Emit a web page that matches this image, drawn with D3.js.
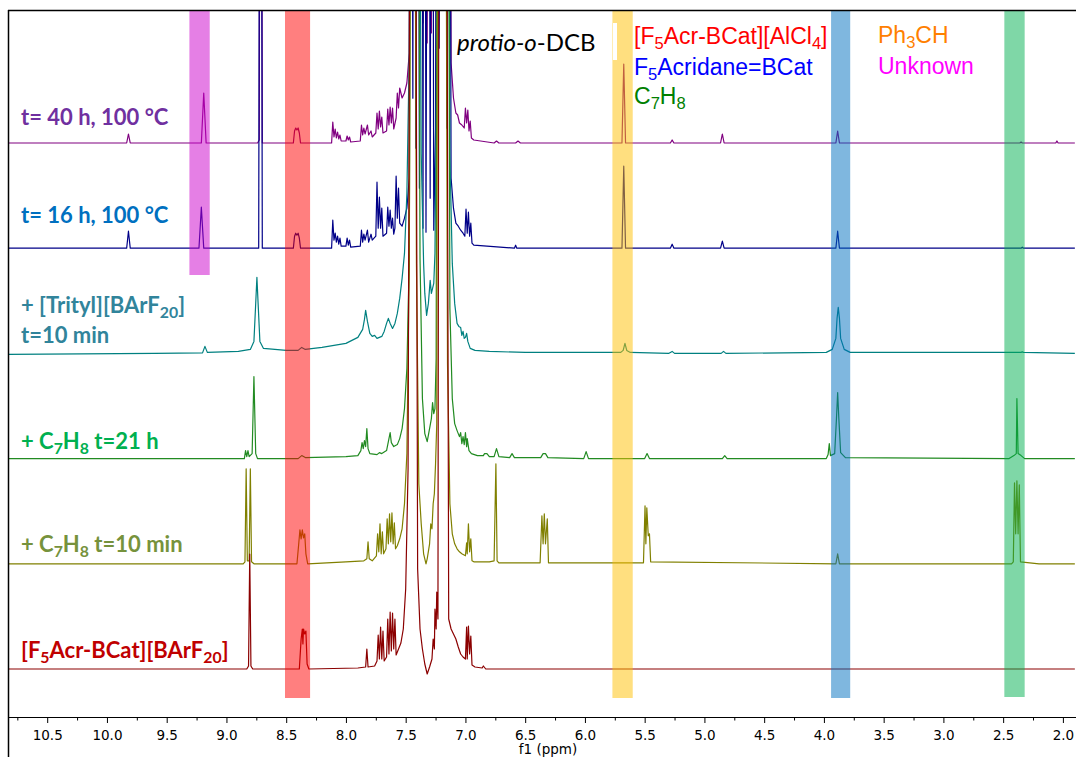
<!DOCTYPE html>
<html>
<head>
<meta charset="utf-8">
<script src="https://cdn.jsdelivr.net/npm/d3@7"></script>
<style>
body { margin: 0; background: #fff; }
</style>
</head>
<body>
<svg id="chart" width="1076" height="757"></svg>
<script>
// ---- data ----
// spectrum labels, top to bottom ("_{..}" = subscript, "|" = new line)
var names = ["t= 40 h, 100 °C", "t= 16 h, 100 °C", "+ [Trityl][BArF_{20}]|t=10 min",
  "+ C_{7}H_{8} t=21 h", "+ C_{7}H_{8} t=10 min", "[F_{5}Acr-BCat][BArF_{20}]"];

// [ppm, intensity] points of each trace
var s40h = [[10.85,0],[9.835,0],[9.82,9],[9.805,0],[9.21,0],[9.19,50],[9.17,0],
  [8.74,0],[8.725,3],[8.715,1000],[8.70,0],
  [8.44,0],[8.43,12],[8.42,15],[8.41,13],[8.40,15],[8.39,10],[8.38,0],
  [8.12,0],[8.11,21],[8.10,6],[8.09,14],[8.08,5],[8.07,11],[8.06,4],[8.05,8],[8.04,2],
  [8.00,2],[7.99,7],[7.98,3],[7.97,6],[7.96,1],
  [7.88,2],[7.87,18],[7.86,8],[7.85,15],[7.84,9],[7.82,18],[7.81,8],[7.79,12],[7.78,6],
  [7.75,10],[7.74,30],[7.73,14],[7.72,32],[7.71,16],[7.70,26],[7.69,10],
  [7.66,12],[7.65,34],[7.64,18],[7.63,36],[7.62,20],[7.61,35],[7.60,14],
  [7.58,25],[7.57,50],[7.56,35],[7.55,55],[7.53,45],[7.51,50],[7.49,60],[7.47,90],
  [7.455,1000],[7.44,200],[7.43,1000],[7.42,300],[7.40,1000],[7.385,150],[7.37,1000],
  [7.355,120],[7.34,1000],[7.32,100],[7.30,1000],[7.285,110],[7.27,1000],[7.25,160],
  [7.23,1000],[7.21,250],[7.19,1000],[7.17,1000],[7.155,150],[7.14,1000],[7.12,80],
  [7.10,45],[7.08,30],[7.065,28],[7.05,20],[7.03,18],[7.01,15],[7.00,35],[6.99,20],
  [6.98,33],[6.97,12],[6.96,22],[6.95,5],[6.93,3],
  [6.76,0],[6.74,2],[6.72,0],[6.58,0],[6.56,2],[6.54,0],
  [5.69,0],[5.675,79],[5.66,0],[5.285,0],[5.27,3],[5.255,0],[4.865,0],[4.85,9],[4.835,0],
  [3.90,0],[3.885,12],[3.87,0],[2.36,0],[2.35,1],[2.34,0],[2.06,0],[2.05,2],[2.04,0],[1.9,0]];

var s16h = [[10.85,0],[9.835,0],[9.82,17],[9.805,0],[9.23,0],[9.21,41],[9.19,0],
  [8.73,0],[8.715,1000],[8.70,0],
  [8.44,0],[8.43,12],[8.42,15],[8.41,13],[8.40,15],[8.39,10],[8.38,0],
  [8.12,0],[8.11,28],[8.10,8],[8.09,15],[8.08,6],[8.07,12],[8.06,4],[8.05,10],[8.04,2],
  [8.00,2],[7.99,10],[7.98,3],[7.97,8],[7.96,1],
  [7.88,2],[7.87,18],[7.86,6],[7.85,14],[7.84,8],[7.82,18],[7.81,6],[7.79,14],[7.78,8],
  [7.75,12],[7.74,66],[7.73,20],[7.72,51],[7.71,20],[7.70,40],[7.69,12],
  [7.66,15],[7.65,41],[7.64,22],[7.63,38],[7.62,20],[7.61,30],[7.60,14],
  [7.59,20],[7.58,72],[7.57,30],[7.56,60],[7.55,25],[7.53,22],[7.51,30],[7.49,40],[7.47,70],
  [7.455,1000],[7.44,150],[7.43,1000],[7.415,100],[7.40,1000],[7.385,60],[7.37,1000],
  [7.355,20],[7.345,1000],[7.33,16],[7.31,1000],[7.295,50],[7.28,1000],[7.265,18],
  [7.25,120],[7.235,1000],[7.22,200],[7.19,1000],[7.17,1000],[7.155,120],[7.14,1000],
  [7.12,70],[7.10,40],[7.08,25],[7.06,22],[7.04,18],[7.02,15],[7.005,12],[6.995,39],
  [6.985,15],[6.975,36],[6.965,12],[6.955,25],[6.945,5],[6.93,3],
  [6.59,0],[6.58,3],[6.57,0],[5.69,0],[5.675,82],[5.66,0],[5.285,0],[5.27,4],[5.255,0],
  [4.865,0],[4.85,7],[4.835,0],[3.90,0],[3.885,17],[3.87,0],[2.35,0],[2.34,1],[2.33,0],[1.9,0]];

var sTrityl = [[10.85,-1],[9.6,0],[9.20,0.5],[9.18,7],[9.16,1],[8.9,2],[8.80,4],[8.77,12],
  [8.755,50],[8.745,76],[8.735,50],[8.72,12],[8.69,5],[8.5,3],[8.40,3],[8.37,6],[8.34,4],
  [8.2,6],[8.0,10],[7.90,16],[7.86,24],[7.845,34],[7.835,43],[7.82,32],[7.80,20],[7.78,17],
  [7.76,18],[7.74,15],[7.72,16],[7.70,17],[7.68,22],[7.66,30],[7.645,35],[7.63,30],[7.61,25],
  [7.59,30],[7.57,40],[7.55,55],[7.53,75],[7.51,100],[7.49,160],[7.47,300],[7.45,1000],
  [7.43,1000],[7.40,1000],[7.37,200],[7.35,90],[7.34,60],[7.325,38],[7.31,50],[7.295,73],
  [7.285,60],[7.275,65],[7.265,70],[7.255,100],[7.24,300],[7.22,1000],[7.17,1000],
  [7.15,1000],[7.13,200],[7.11,90],[7.09,50],[7.07,30],[7.055,27],[7.04,26],[7.03,18],
  [7.02,22],[7.01,15],[7.00,16],[6.99,20],[6.98,12],[6.96,5],[6.92,3],[6.8,2],[6.5,1],
  [5.70,1],[5.68,3],[5.665,10],[5.65,3],[5.62,1],[5.3,0],[5.27,2],[5.25,0],[4.86,0],
  [4.84,2],[4.82,0],[3.98,1],[3.93,4],[3.90,15],[3.89,35],[3.88,46],[3.87,35],[3.86,15],
  [3.83,4],[3.78,1],[2.35,1],[2.34,1.5],[2.33,1],[1.9,0]];

var sTol21h = [[10.85,0],[8.85,0],[8.84,8],[8.83,2],[8.82,8],[8.81,2],[8.785,5],[8.77,82],
  [8.755,5],[8.74,0],[8.40,0],[8.37,3],[8.34,1],[8.0,2],[7.90,3],[7.875,8],[7.865,16],
  [7.855,10],[7.845,18],[7.835,12],[7.825,30],[7.815,10],[7.80,5],[7.74,4],[7.72,6],
  [7.70,5],[7.66,8],[7.64,20],[7.63,26],[7.62,16],[7.60,12],[7.57,14],[7.55,20],[7.53,30],
  [7.51,50],[7.49,90],[7.47,200],[7.45,1000],[7.42,1000],[7.40,1000],[7.38,200],[7.36,60],
  [7.34,25],[7.32,17],[7.30,30],[7.285,40],[7.275,56],[7.265,45],[7.255,50],[7.245,100],
  [7.23,1000],[7.17,1000],[7.15,1000],[7.13,150],[7.11,60],[7.09,35],[7.07,28],[7.05,22],
  [7.04,26],[7.03,15],[7.02,22],[7.01,14],[7.00,26],[6.99,12],[6.985,20],[6.97,8],
  [6.95,5],[6.90,3],[6.85,3],[6.84,5],[6.82,5],[6.80,2],[6.76,2],[6.74,10],[6.72,2],
  [6.63,1],[6.61,5],[6.59,1],[6.37,1],[6.35,5],[6.33,5],[6.31,1],[6.01,0],[5.99,7],
  [5.97,0],[5.50,0],[5.48,5],[5.46,0],[4.85,0],[4.83,3],[4.81,0],[3.98,0],[3.965,4],
  [3.955,15],[3.945,3],[3.91,5],[3.895,40],[3.885,66],[3.875,40],[3.86,6],[3.82,1],
  [2.45,0],[2.41,3],[2.39,5],[2.385,60],[2.375,5],[2.35,3],[2.32,0],[1.9,0]];

var sTol10m = [[10.85,0],[8.86,0],[8.845,2],[8.835,95],[8.825,3],[8.81,3],[8.80,95],
  [8.79,2],[8.77,0],[8.41,0],[8.395,20],[8.385,34],[8.375,25],[8.365,34],[8.355,26],
  [8.345,30],[8.335,10],[8.32,0],[8.0,2],[7.85,3],[7.825,5],[7.815,22],[7.805,5],[7.78,3],
  [7.745,8],[7.735,30],[7.725,12],[7.715,40],[7.705,10],[7.695,32],[7.685,10],[7.665,15],
  [7.655,45],[7.645,20],[7.635,50],[7.625,22],[7.615,51],[7.605,20],[7.595,41],[7.585,15],
  [7.57,18],[7.55,25],[7.53,35],[7.51,60],[7.49,110],[7.47,300],[7.45,1000],[7.43,1000],
  [7.41,300],[7.39,80],[7.38,60],[7.37,40],[7.35,10],[7.33,0],[7.32,5],[7.30,20],[7.29,40],
  [7.28,35],[7.27,60],[7.26,70],[7.25,100],[7.24,140],[7.23,1000],[7.20,1000],[7.17,1000],
  [7.15,200],[7.13,60],[7.11,30],[7.09,20],[7.07,15],[7.05,12],[7.03,10],[7.00,8],
  [6.99,21],[6.985,10],[6.975,40],[6.965,12],[6.955,25],[6.945,3],[6.93,2],[6.80,2],
  [6.76,3],[6.745,100],[6.735,3],[6.72,1],[6.375,1],[6.36,48],[6.35,20],[6.34,50],
  [6.33,20],[6.315,45],[6.305,1],[5.51,1],[5.497,58],[5.49,20],[5.482,56],[5.47,28],
  [5.46,30],[5.45,2],[3.90,0],[3.885,10],[3.87,0],[2.43,0],[2.415,2],[2.405,81],
  [2.395,30],[2.385,83],[2.375,30],[2.365,79],[2.355,2],[2.2,0],[1.9,0]];

var sStart = [[10.85,0],[8.83,0],[8.815,3],[8.805,115],[8.795,3],[8.78,0],[8.39,0],
  [8.375,30],[8.365,40],[8.36,25],[8.355,40],[8.345,35],[8.335,38],[8.325,5],[8.31,0],
  [7.90,1],[7.835,2],[7.825,20],[7.815,2],[7.76,3],[7.74,8],[7.73,34],[7.72,10],[7.71,42],
  [7.70,10],[7.69,38],[7.68,8],[7.66,12],[7.65,50],[7.64,15],[7.63,57],[7.62,18],[7.61,56],
  [7.60,20],[7.59,50],[7.58,14],[7.56,20],[7.54,26],[7.52,40],[7.50,80],[7.48,200],
  [7.46,1000],[7.44,1000],[7.42,1000],[7.40,100],[7.38,40],[7.36,20],[7.34,5],[7.32,-5],
  [7.30,2],[7.28,10],[7.27,30],[7.26,20],[7.255,60],[7.245,40],[7.24,77],[7.23,50],
  [7.22,1000],[7.18,1000],[7.16,1000],[7.14,50],[7.12,40],[7.10,35],[7.08,30],[7.06,22],
  [7.04,15],[7.02,12],[7.00,10],[6.99,42],[6.985,10],[6.975,43],[6.965,15],[6.955,33],
  [6.945,4],[6.92,2],[6.86,1],[6.85,3],[6.83,0],[6.1,0],[1.9,0]];

var spectra = [s40h, s16h, sTrityl, sTol21h, sTol10m, sStart];

// highlighted shift ranges, ppm
var bandRanges = [[9.31, 9.14], [8.51, 8.30], [5.77, 5.60], [3.94, 3.78], [2.49, 2.32]];

// assignment key
var keyTexts = ["[F_{5}Acr-BCat][AlCl_{4}]", "F_{5}Acridane=BCat", "C_{7}H_{8}", "Ph_{3}CH", "Unknown"];

var majorTicks = [10.5, 10.0, 9.5, 9.0, 8.5, 8.0, 7.5, 7.0, 6.5, 6.0, 5.5, 5.0, 4.5, 4.0, 3.5, 3.0, 2.5, 2.0];
var minorTicks = [10.75, 10.25, 9.75, 9.25, 8.75, 8.25, 7.75, 7.25, 6.75, 6.25, 5.75, 5.25, 4.75, 4.25, 3.75, 3.25, 2.75, 2.25];

// ---- layout and styles ----
var W = 1076, H = 757;
var plotLeft = 8, plotTop = 10, axisY = 717;
var base0 = 143, step = 105.2;
var lineColors = ["#800080", "#000088", "#008080", "#228b22", "#808000", "#8b0000"];
var labelColors = ["#7030a0", "#0070c0", "#31849b", "#00b050", "#76923c", "#c00000"];
var labelY = [125, 223, 313, 449, 552, 658];
var bandColors = ["#cc00cc", "#ff0000", "#ffc000", "#0070c0", "#00b050"];
var bandBottom = [275, 698, 698, 698, 697];
var keyColors = ["#ff0000", "#0000ff", "#008000", "#ff8000", "#ff00ff"];
var keyPos = [[634, 44], [634, 75], [634, 104], [878, 43], [878, 74]];

var svg = d3.select("#chart");

var x = d3.scaleLinear().domain([10.5, 2.0]).range([47.2, 1062.9]);

svg.append("defs").append("clipPath").attr("id", "plotclip")
  .append("rect").attr("x", plotLeft).attr("y", plotTop)
  .attr("width", W - plotLeft).attr("height", axisY - plotTop);

// text with _{sub} and *italic* markup
function richText(sel, str, size) {
  var parts = str.split(/(_\{[^}]*\}|\*[^*]*\*)/);
  var down = false;
  parts.forEach(function (p) {
    if (!p) return;
    var t = sel.append("tspan");
    if (p.indexOf("_{") === 0) {
      t.text(p.slice(2, -1)).style("font-size", (size * 0.72) + "px").attr("dy", size * 0.22);
      down = true;
    } else {
      if (p[0] === "*") { t.style("font-style", "italic"); p = p.slice(1, -1); }
      t.text(p);
      if (down) { t.attr("dy", -size * 0.22); down = false; }
    }
  });
}

// spectra
var traces = svg.append("g").attr("clip-path", "url(#plotclip)");
spectra.forEach(function (data, i) {
  var base = base0 + i * step;
  var y = d3.scaleLinear().domain([0, 100]).range([base, base - 100]);
  var line = d3.line()
    .x(function (d) { return x(d[0]); })
    .y(function (d) { return y(d[1]); });
  traces.append("path")
    .attr("d", line(data))
    .attr("fill", "none")
    .attr("stroke", lineColors[i])
    .attr("stroke-width", 1.2)
    .attr("stroke-linejoin", "round");
});

// highlight bands over the traces
bandRanges.forEach(function (r, i) {
  svg.append("rect")
    .attr("x", x(r[0]))
    .attr("width", x(r[1]) - x(r[0]))
    .attr("y", plotTop)
    .attr("height", bandBottom[i] - plotTop)
    .attr("fill", bandColors[i])
    .attr("fill-opacity", 0.5);
});
svg.append("rect").attr("x", 613).attr("y", 23).attr("width", 4).attr("height", 37).attr("fill", "#fff");

// spectrum labels
names.forEach(function (n, i) {
  n.split("|").forEach(function (ln, k) {
    var t = svg.append("text")
      .attr("x", 21)
      .attr("y", labelY[i] + k * 30)
      .attr("fill", labelColors[i])
      .style("font-family", "Lato, 'Open Sans', sans-serif")
      .style("font-weight", "bold")
      .style("font-size", "22px");
    richText(t, ln, 22);
  });
});

// key
var pd = svg.append("text").attr("x", 457).attr("y", 51)
  .style("font-family", "Lato, sans-serif").style("font-size", "24px").attr("fill", "#000");
richText(pd, "*protio-o*-DCB", 24);

keyTexts.forEach(function (k, i) {
  var t = svg.append("text")
    .attr("x", keyPos[i][0]).attr("y", keyPos[i][1])
    .attr("fill", keyColors[i])
    .style("font-family", "'Liberation Sans', Arial, sans-serif")
    .style("font-size", "23px");
  richText(t, k, 23);
});

// frame
svg.append("line").attr("x1", plotLeft).attr("x2", W).attr("y1", plotTop + 0.5).attr("y2", plotTop + 0.5)
  .attr("stroke", "#000").attr("stroke-width", 1.5);
svg.append("line").attr("x1", plotLeft + 0.5).attr("x2", plotLeft + 0.5).attr("y1", plotTop).attr("y2", H)
  .attr("stroke", "#000").attr("stroke-width", 1.5);
svg.append("line").attr("x1", plotLeft).attr("x2", W).attr("y1", axisY + 0.5).attr("y2", axisY + 0.5)
  .attr("stroke", "#000").attr("stroke-width", 1);

// axis
var xAxis = d3.axisBottom(x).tickValues(majorTicks).tickSize(6).tickPadding(7)
  .tickFormat(d3.format(".1f"));
var gx = svg.append("g").attr("transform", "translate(0," + axisY + ")").call(xAxis);
gx.select(".domain").remove();
gx.selectAll("text").style("font-family", "'DejaVu Sans', Verdana, sans-serif")
  .style("font-size", "13.5px").attr("fill", "#000");

var xMinor = d3.axisBottom(x).tickValues(minorTicks).tickSize(3.5).tickFormat("");
var gm = svg.append("g").attr("transform", "translate(0," + axisY + ")").call(xMinor);
gm.select(".domain").remove();

svg.append("text")
  .attr("x", 548).attr("y", 754)
  .attr("text-anchor", "middle")
  .style("font-family", "'DejaVu Sans', Verdana, sans-serif")
  .style("font-size", "13.5px")
  .text("f1 (ppm)");
</script>
</body>
</html>
